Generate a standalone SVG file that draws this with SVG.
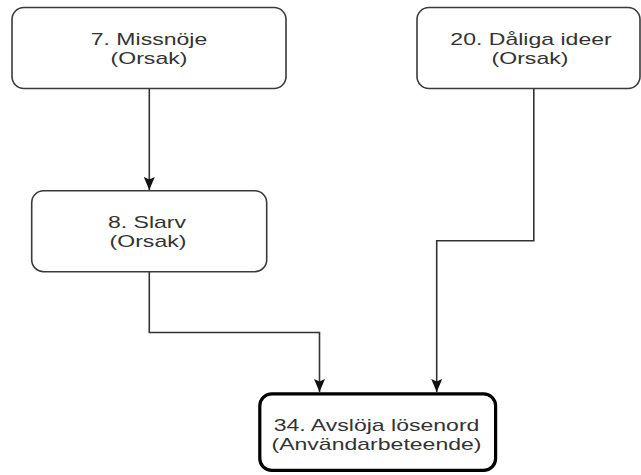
<svg xmlns="http://www.w3.org/2000/svg" width="641" height="475" viewBox="0 0 641 475">
  <style>
    .box { fill: #ffffff; stroke: #3a3a3a; stroke-width: 1.6; }
    .box-main { fill: #ffffff; stroke: #000000; stroke-width: 3.2; }
    .label { font-family: "Liberation Sans", Arial, sans-serif; font-size: 16px; fill: #333333; text-anchor: middle; }
    .edge { fill: none; stroke: #333333; stroke-width: 1.6; }
  </style>
  <defs>
    <marker id="arrow" markerUnits="userSpaceOnUse" markerWidth="13" markerHeight="11" viewBox="0 0 13 11" refX="13" refY="5.5" orient="auto">
      <path d="M0,0 L13,5.5 L0,11 L2.5,5.5 z" fill="#111111"/>
    </marker>
  </defs>

  <rect width="641" height="475" fill="#ffffff"/>

  <!-- connectors -->
  <g id="connectors">
    <path class="edge" d="M149.3,88.5 V190" marker-end="url(#arrow)"/>
    <path class="edge" d="M149.3,271.7 V332.5 H319.5 V392" marker-end="url(#arrow)"/>
    <path class="edge" d="M533.8,88.5 V240.7 H436.7 V392" marker-end="url(#arrow)"/>
  </g>

  <!-- node 7 -->
  <g id="node-missnoje">
    <rect class="box" x="12" y="7.5" width="274" height="81" rx="12" ry="12"/>
    <text class="label" transform="translate(149,45) scale(1.44,1)">7. Missnöje</text>
    <text class="label" transform="translate(149,64) scale(1.44,1)">(Orsak)</text>
  </g>

  <!-- node 20 -->
  <g id="node-daliga-ideer">
    <rect class="box" x="417" y="7.5" width="223" height="81" rx="12" ry="12"/>
    <text class="label" transform="translate(531,45) scale(1.44,1)">20. Dåliga ideer</text>
    <text class="label" transform="translate(530,64) scale(1.44,1)">(Orsak)</text>
  </g>

  <!-- node 8 -->
  <g id="node-slarv">
    <rect class="box" x="31.7" y="190.7" width="235" height="81" rx="12" ry="12"/>
    <text class="label" transform="translate(147,228) scale(1.44,1)">8. Slarv</text>
    <text class="label" transform="translate(148,247) scale(1.44,1)">(Orsak)</text>
  </g>

  <!-- node 34 -->
  <g id="node-avsloja-losenord">
    <rect class="box-main" x="259.8" y="393.8" width="235.8" height="76.6" rx="12" ry="12"/>
    <text class="label" transform="translate(376.5,430.5) scale(1.44,1)">34. Avslöja lösenord</text>
    <text class="label" transform="translate(376.5,449.5) scale(1.44,1)">(Användarbeteende)</text>
  </g>
</svg>
